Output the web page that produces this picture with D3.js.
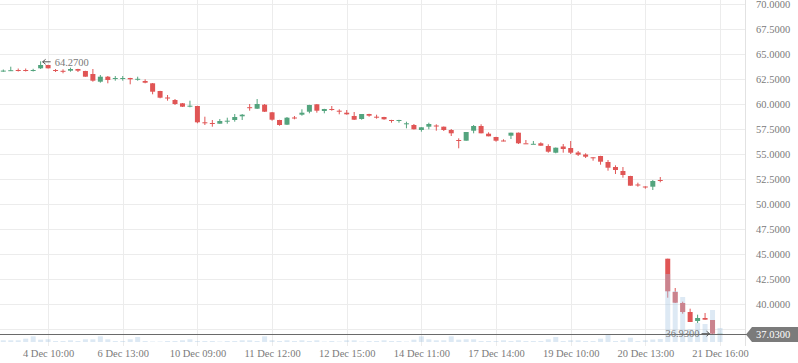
<!DOCTYPE html>
<html>
<head>
<meta charset="utf-8">
<script src="https://cdn.jsdelivr.net/npm/d3@7/dist/d3.min.js"></script>
<style>
	body {margin: 0; background: #fff;}
	svg {display: block;}
</style>
</head>
<body>
<svg id="chart" width="798" height="363"></svg>
<script>
	'use strict';

	// candles, one per period
	var opens = [
		63.32, 63.33, 63.40, 63.40, 63.37, 63.57, 63.90, 63.40, 63.32, 63.33,
		63.50, 63.30, 63.00, 62.23, 62.73, 62.50, 62.58, 62.60, 62.50, 62.30,
		62.07, 61.30, 60.65, 60.40, 60.07, 59.80, 59.80, 58.17, 58.10, 58.03,
		58.30, 58.40, 58.77, 59.68, 59.53, 59.93, 59.17, 58.40, 57.93, 58.65,
		58.93, 59.23, 59.97, 59.30, 59.50, 59.33, 59.13, 58.80, 58.50, 59.00,
		58.73, 58.70, 58.40, 58.35, 58.05, 57.90, 57.40, 57.73, 57.85, 57.73,
		57.40, 56.40, 56.33, 57.33, 57.80, 57.03, 56.70, 56.35, 56.83, 57.13,
		56.07, 56.00, 56.07, 55.80, 55.13, 55.75, 55.60, 55.15, 54.95, 54.67,
		54.80, 54.20, 53.70, 53.30, 52.80, 51.95, 51.75, 51.73, 52.40, 44.53,
		41.20, 40.10, 39.20, 38.30, 38.60, 38.40, 37.03];
	var highs = [
		63.45, 63.73, 63.55, 63.55, 63.52, 64.27, 63.92, 63.50, 63.47, 63.63,
		63.52, 63.32, 63.50, 62.90, 62.80, 62.80, 62.80, 62.62, 62.73, 62.47,
		62.10, 61.32, 60.90, 60.50, 60.10, 60.33, 59.82, 58.73, 58.40, 58.50,
		58.63, 59.00, 59.00, 60.00, 60.50, 60.00, 59.20, 58.42, 58.70, 58.80,
		59.47, 59.92, 60.00, 59.52, 59.80, 59.47, 59.40, 59.20, 59.00, 59.02,
		58.93, 58.72, 58.42, 58.42, 58.23, 58.00, 57.68, 58.13, 57.97, 57.75,
		57.50, 56.57, 57.20, 57.90, 57.97, 57.17, 56.72, 56.47, 57.13, 57.15,
		56.40, 56.30, 56.17, 55.97, 55.65, 56.00, 56.30, 55.30, 55.07, 54.68,
		54.82, 54.40, 53.87, 53.70, 52.82, 52.13, 51.77, 52.40, 52.70, 44.53,
		41.60, 40.23, 39.53, 38.93, 39.10, 38.40, 37.03];
	var lows = [
		63.22, 63.30, 63.25, 63.25, 63.25, 63.50, 63.55, 63.20, 63.07, 63.23,
		63.20, 62.73, 62.23, 62.13, 62.07, 62.33, 62.33, 61.97, 62.33, 62.07,
		60.97, 60.57, 60.33, 59.90, 59.70, 59.67, 58.07, 57.90, 57.73, 58.03,
		58.03, 58.23, 58.40, 59.33, 59.50, 59.20, 58.33, 57.83, 57.90, 58.47,
		58.83, 59.07, 59.13, 59.07, 59.33, 58.97, 58.93, 58.40, 58.43, 58.73,
		58.53, 58.43, 58.13, 58.13, 57.57, 57.45, 57.23, 57.47, 57.33, 57.30,
		56.80, 55.57, 56.33, 57.07, 57.07, 56.77, 56.23, 56.27, 56.50, 56.00,
		56.05, 56.00, 55.83, 55.13, 55.07, 55.13, 55.00, 54.80, 54.60, 54.33,
		53.93, 53.33, 53.00, 52.63, 51.83, 51.73, 51.53, 51.40, 52.17, 40.63,
		40.10, 39.03, 38.20, 38.10, 38.43, 36.93, 37.03];
	var closes = [
		63.34, 63.38, 63.38, 63.38, 63.40, 63.90, 63.57, 63.38, 63.30, 63.50,
		63.33, 62.73, 62.33, 62.73, 62.40, 62.60, 62.60, 62.47, 62.52, 62.13,
		61.23, 60.63, 60.63, 60.00, 59.73, 59.83, 58.17, 58.15, 58.07, 58.30,
		58.33, 58.70, 58.93, 59.65, 60.00, 59.23, 58.43, 57.90, 58.63, 58.63,
		59.13, 59.90, 59.33, 59.50, 59.48, 59.30, 58.97, 58.43, 59.00, 58.83,
		58.70, 58.47, 58.38, 58.40, 58.07, 57.47, 57.67, 58.00, 57.83, 57.40,
		57.07, 56.38, 57.20, 57.80, 57.07, 56.77, 56.33, 56.33, 57.13, 56.07,
		56.05, 56.02, 55.83, 55.23, 55.63, 55.50, 55.13, 54.93, 54.73, 54.65,
		54.23, 53.63, 53.40, 52.90, 51.83, 51.93, 51.73, 52.30, 52.38, 41.27,
		40.13, 39.20, 38.20, 38.60, 38.43, 37.03, 37.03];
	var volumes = [
		17, 17, 17, 33, 57, 23, 27, 10, 10, 17,
		10, 27, 27, 57, 27, 10, 10, 27, 50, 10,
		5, 5, 10, 10, 17, 27, 10, 10, 10, 5,
		10, 10, 17, 17, 10, 57, 17, 10, 17, 10,
		17, 10, 17, 5, 10, 5, 17, 17, 5, 10,
		10, 17, 10, 10, 5, 23, 57, 27, 17, 17,
		57, 23, 27, 27, 10, 10, 10, 17, 10, 17,
		10, 10, 10, 27, 50, 10, 17, 17, 10, 10,
		33, 77, 10, 17, 43, 10, 17, 25, 30, 680,
		510, 450, 130, 190, 180, 320, 140];

	var tickIdx = [6, 16, 26, 36, 46, 56, 66, 76, 86, 96];
	var tickLabels = [
		'4 Dec 10:00', '6 Dec 13:00', '10 Dec 09:00', '11 Dec 12:00', '12 Dec 15:00',
		'14 Dec 11:00', '17 Dec 14:00', '19 Dec 10:00', '20 Dec 13:00', '21 Dec 16:00'];
	var priceTicks = [37.5, 40, 42.5, 45, 47.5, 50, 52.5, 55, 57.5, 60, 62.5, 65, 67.5, 70];
	var lastPrice = 37.03;

	var plotRight = 745, plotBottom = 342;
	var up = '#53a47e', down = '#e05555';
	var font = '"Liberation Serif", "DejaVu Serif", serif';

	var svg = d3.select('#chart');

	var x = d3.scaleLinear().domain([0, opens.length - 1]).range([3.3, 720]);
	var y = d3.scaleLinear().domain([37.5, 70]).range([329, 4]);
	var yVol = d3.scaleLinear().domain([0, d3.max(volumes)]).range([plotBottom, plotBottom - 68]);
	var bodyW = 5;

	function crisp(v) {return Math.round(v) + 0.5;}

	var yl = crisp(y(lastPrice));

	// grid
	var grid = svg.append('g').attr('class', 'grid')
		.attr('stroke', '#ececec').attr('stroke-width', 1);
	grid.selectAll('line.h').data(priceTicks).enter().append('line')
		.attr('class', 'h')
		.attr('x1', 0).attr('x2', plotRight)
		.attr('y1', function(d) {return crisp(y(d));})
		.attr('y2', function(d) {return crisp(y(d));});
	grid.selectAll('line.v').data(tickIdx).enter().append('line')
		.attr('class', 'v')
		.attr('x1', function(d) {return crisp(x(d));})
		.attr('x2', function(d) {return crisp(x(d));})
		.attr('y1', 0).attr('y2', 346);
	svg.append('line')
		.attr('x1', plotRight + 0.5).attr('x2', plotRight + 0.5)
		.attr('y1', 0).attr('y2', 346)
		.attr('stroke', '#e2e2e2');

	// axes (labels hidden behind the last-price box are left out)
	var labelTicks = priceTicks.filter(function(d) {return Math.abs(y(d) - yl) > 10;});
	var yAxis = svg.append('g')
		.attr('transform', 'translate(' + plotRight + ',0)')
		.call(d3.axisRight(y).tickValues(labelTicks).tickFormat(d3.format('.4f'))
			.tickSize(0).tickPadding(11));
	yAxis.select('.domain').remove();
	yAxis.selectAll('text').attr('fill', '#7a7a7a')
		.style('font-family', font).style('font-size', '10.5px');

	var xAxis = svg.append('g')
		.attr('transform', 'translate(0,345)')
		.call(d3.axisBottom(x).tickValues(tickIdx)
			.tickFormat(function(d, i) {return tickLabels[i];})
			.tickSize(0).tickPadding(5));
	xAxis.select('.domain').remove();
	xAxis.selectAll('text').attr('fill', '#7a7a7a')
		.style('font-family', font).style('font-size', '10.5px');

	// candles
	var candles = svg.append('g').attr('class', 'candles')
		.selectAll('g').data(opens).enter().append('g')
		.attr('fill', function(d, i) {return closes[i] >= d ? up : down;})
		.attr('stroke', function(d, i) {return closes[i] >= d ? up : down;});
	candles.append('line')
		.attr('x1', function(d, i) {return x(i);})
		.attr('x2', function(d, i) {return x(i);})
		.attr('y1', function(d, i) {return y(highs[i]);})
		.attr('y2', function(d, i) {return y(lows[i]);})
		.attr('stroke-width', 1);
	candles.append('rect')
		.attr('stroke', 'none')
		.attr('x', function(d, i) {return x(i) - bodyW / 2;})
		.attr('width', bodyW)
		.attr('y', function(d, i) {return y(Math.max(d, closes[i]));})
		.attr('height', function(d, i) {return Math.max(1, Math.abs(y(d) - y(closes[i])));});

	// volume, drawn over the candles
	svg.append('g').attr('class', 'volume')
		.selectAll('rect').data(volumes).enter().append('rect')
		.attr('x', function(d, i) {return x(i) - bodyW / 2;})
		.attr('width', bodyW)
		.attr('y', function(d) {return yVol(d);})
		.attr('height', function(d) {return plotBottom - yVol(d);})
		.attr('fill', 'rgb(170,200,228)')
		.attr('fill-opacity', 0.4);

	// last price line and label
	svg.append('line')
		.attr('x1', 0).attr('x2', plotRight + 2)
		.attr('y1', yl).attr('y2', yl)
		.attr('stroke', '#6a6a6a');
	svg.append('path')
		.attr('d', 'M746,' + yl + 'L752,' + (yl - 7.5) + 'L798,' + (yl - 7.5) +
			'L798,' + (yl + 7.5) + 'L752,' + (yl + 7.5) + 'Z')
		.attr('fill', '#7b7b7b');
	svg.append('text')
		.attr('x', 756).attr('y', yl).attr('dy', '0.35em')
		.attr('fill', '#fff')
		.style('font-family', font).style('font-size', '10.5px')
		.text(d3.format('.4f')(lastPrice));

	// max / min markers
	var iMax = d3.maxIndex(highs), iMin = d3.minIndex(lows);
	var markers = svg.append('g').attr('class', 'markers');
	var ym = y(highs[iMax]) + 0.5;
	markers.append('path')
		.attr('d', 'M' + (x(iMax) + 10) + ',' + ym + 'H' + (x(iMax) + 2) +
			'M' + (x(iMax) + 5) + ',' + (ym - 2.5) + 'L' + (x(iMax) + 2) + ',' + ym +
			'L' + (x(iMax) + 5) + ',' + (ym + 2.5))
		.attr('fill', 'none').attr('stroke', '#555');
	markers.append('text')
		.attr('x', x(iMax) + 14).attr('y', ym + 1).attr('dy', '0.35em')
		.attr('fill', '#7a7a7a')
		.style('font-family', font).style('font-size', '10.5px')
		.text(d3.format('.4f')(highs[iMax]));
	var yn = y(lows[iMin]) - 1;
	markers.append('path')
		.attr('d', 'M' + (x(iMin) - 11) + ',' + yn + 'H' + (x(iMin) - 3) +
			'M' + (x(iMin) - 6) + ',' + (yn - 2.5) + 'L' + (x(iMin) - 3) + ',' + yn +
			'L' + (x(iMin) - 6) + ',' + (yn + 2.5))
		.attr('fill', 'none').attr('stroke', '#555');
	markers.append('text')
		.attr('x', x(iMin) - 13).attr('y', yn).attr('dy', '0.35em')
		.attr('text-anchor', 'end')
		.attr('fill', '#7a7a7a')
		.style('font-family', font).style('font-size', '10.5px')
		.text(d3.format('.4f')(lows[iMin]));
</script>
</body>
</html>
